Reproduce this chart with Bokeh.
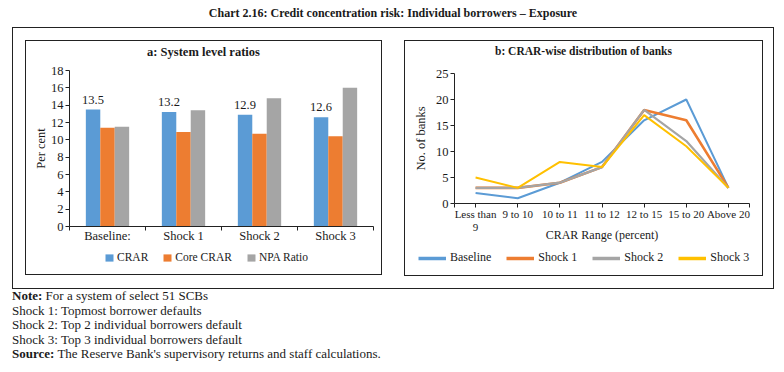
from bokeh.plotting import figure
from bokeh.models import (ColumnDataSource, FixedTicker, Legend, LegendItem, Div,
                          LabelSet, Range1d)
from bokeh.layouts import column, row
from bokeh.embed import file_html
from bokeh.resources import INLINE
from bokeh.transform import dodge

# ---------------- data ----------------
scenarios = ["Baseline:", "Shock 1", "Shock 2", "Shock 3"]
crar = [13.5, 13.2, 12.9, 12.6]
core_crar = [11.4, 10.9, 10.7, 10.4]
npa_ratio = [11.5, 13.4, 14.8, 16.0]

crar_ranges = ["Less than\n9", "9 to 10", "10 to 11", "11 to 12", "12 to 15", "15 to 20", "Above 20"]
baseline = [2, 1, 4, 8, 16, 20, 3]
shock1 = [3, 3, 4, 7, 18, 16, 3]
shock2 = [3, 3, 4, 7, 18, 12, 3]
shock3 = [5, 3, 8, 7, 17, 11, 3]

BLUE, ORANGE, GRAY, YELLOW = "#5B9BD5", "#ED7D31", "#A5A5A5", "#FFC000"
FONT = "Liberation Serif"
TXT = "#1a1a1a"
FS = "12.5px"
BORDER = {"border": "1px solid #222"}


def style_axes(p):
    for ax in (p.xaxis[0], p.yaxis[0]):
        ax.axis_line_color = "#222222"
        ax.major_tick_line_color = "#222222"
        ax.minor_tick_line_color = "#222222"
        ax.major_label_text_font = FONT
        ax.major_label_text_font_size = FS
        ax.major_label_text_color = TXT
        ax.axis_label_text_font = FONT
        ax.axis_label_text_font_size = FS
        ax.axis_label_text_font_style = "normal"
        ax.axis_label_text_color = TXT
        ax.major_tick_in = 0
        ax.major_tick_out = 4
        ax.minor_tick_in = 0
        ax.minor_tick_out = 0
        ax.major_label_standoff = 2
    p.xgrid.grid_line_color = None
    p.ygrid.grid_line_color = None
    p.outline_line_color = None


def legend_fig(width, height):
    f = figure(width=width, height=height, output_backend="svg", toolbar_location=None,
               x_range=Range1d(-10, -9), y_range=Range1d(-10, -9),
               x_axis_location=None, y_axis_location=None, margin=0,
               min_border_left=0, min_border_right=0, min_border_top=0, min_border_bottom=0)
    f.xgrid.grid_line_color = None
    f.ygrid.grid_line_color = None
    f.outline_line_color = None
    return f


def subtitle(text, width, height, size=FS):
    return Div(text=f"<b>{text}</b>", width=width, height=height, margin=0,
               styles={"font-family": FONT, "font-size": size, "color": TXT,
                       "text-align": "center", "line-height": f"{height}px",
                       "width": f"{width}px"})


# ---------------- panel a ----------------
xa = [i + 0.5 for i in range(len(scenarios))]
src_a = ColumnDataSource(dict(x=xa, crar=crar, core=core_crar, npa=npa_ratio,
                              lab=[f"{v:.1f}" for v in crar]))

pa = figure(frame_width=304, frame_height=156, output_backend="svg", toolbar_location=None,
            x_range=Range1d(0, len(scenarios)), y_range=Range1d(0, 18), margin=0,
            min_border_left=43, min_border_right=8, min_border_top=7, min_border_bottom=20)
bars = [("crar", -0.19, BLUE), ("core", 0.0, ORANGE), ("npa", 0.19, GRAY)]
for col, off, colr in bars:
    pa.vbar(x=dodge("x", off, range=pa.x_range), top=col, width=0.19, source=src_a,
            fill_color=colr, line_color=None)
pa.add_layout(LabelSet(x=dodge("x", -0.19, range=pa.x_range), y="crar", text="lab", source=src_a,
                       text_align="center", y_offset=6, text_font=FONT, text_font_size=FS,
                       text_color=TXT))
style_axes(pa)
pa.xaxis.ticker = FixedTicker(ticks=xa, minor_ticks=list(range(len(scenarios) + 1)))
pa.xaxis.major_label_overrides = {x: s for x, s in zip(xa, scenarios)}
pa.xaxis.major_tick_out = 0
pa.xaxis.minor_tick_out = 4
pa.xaxis.major_label_standoff = -2
pa.yaxis.ticker = FixedTicker(ticks=list(range(0, 19, 2)))
pa.yaxis.axis_label = "Per cent"
pa.yaxis.axis_label_standoff = 0

la = legend_fig(355, 28)
items_a = []
for (col, off, colr), name in zip(bars, ["CRAR", "Core CRAR", "NPA Ratio"]):
    r = la.vbar(x=dodge("x", off, range=la.x_range), top=col, width=0.19, source=src_a,
                fill_color=colr, line_color=None)
    items_a.append(LegendItem(label=name, renderers=[r]))
la.add_layout(Legend(items=items_a, orientation="horizontal", location=(78, 10),
                     padding=0, margin=0, spacing=14, glyph_width=10, glyph_height=9,
                     label_standoff=3, label_height=14,
                     label_text_font=FONT, label_text_font_size="11.5px", label_text_color=TXT,
                     border_line_color=None, background_fill_alpha=0), "center")

panel_a = column(subtitle("a: System level ratios", 355, 22), pa, row(la, margin=0),
                 spacing=0, margin=0, styles=BORDER)

# ---------------- panel b ----------------
xb = [i + 0.5 for i in range(len(crar_ranges))]
src_b = ColumnDataSource(dict(x=xb, b0=baseline, b1=shock1, b2=shock2, b3=shock3))
pb = figure(frame_width=295, frame_height=130, output_backend="svg", toolbar_location=None,
            x_range=Range1d(0, len(crar_ranges)), y_range=Range1d(0, 25), margin=0,
            min_border_left=49, min_border_right=13, min_border_top=11, min_border_bottom=41)
series = [("b0", BLUE, 2.0, "Baseline"), ("b1", ORANGE, 2.6, "Shock 1"),
          ("b2", GRAY, 2.2, "Shock 2"), ("b3", YELLOW, 2.0, "Shock 3")]
for col, colr, lw, name in series:
    pb.line("x", col, source=src_b, line_color=colr, line_width=lw)
style_axes(pb)
pb.xaxis.ticker = FixedTicker(ticks=xb, minor_ticks=[0, len(crar_ranges)])
pb.xaxis.major_label_overrides = {x: s for x, s in zip(xb, crar_ranges)}
pb.xaxis.major_label_text_font_size = "11px"
pb.xaxis.minor_tick_out = 4
pb.xaxis.major_label_standoff = 0
pb.xaxis.major_label_text_line_height = 1.15
pb.xaxis.axis_label = "CRAR Range (percent)"
pb.xaxis.axis_label_text_font_size = "12px"
pb.xaxis.axis_label_standoff = -8
pb.yaxis.ticker = FixedTicker(ticks=list(range(0, 26, 5)))
pb.yaxis.axis_label = "No. of banks"
pb.yaxis.axis_label_standoff = 5

lb = legend_fig(357, 30)
items_b = []
for col, colr, lw, name in series:
    r = lb.line("x", col, source=src_b, line_color=colr, line_width=3.5)
    items_b.append(LegendItem(label=name, renderers=[r]))
lb.add_layout(Legend(items=items_b, orientation="horizontal", location=(13, 10),
                     padding=0, margin=0, spacing=15, glyph_width=28, glyph_height=12,
                     label_standoff=4, label_height=14,
                     label_text_font=FONT, label_text_font_size="12px", label_text_color=TXT,
                     border_line_color=None, background_fill_alpha=0), "center")

panel_b = column(subtitle("b: CRAR-wise distribution of banks", 357, 21, "11.5px"), pb,
                 row(lb, margin=0), spacing=0, margin=0, styles=BORDER)

# ---------------- page ----------------
title = Div(text="<b>Chart 2.16: Credit concentration risk: Individual borrowers &ndash; Exposure</b>",
            width=786, height=27, margin=0,
            styles={"font-family": FONT, "font-size": "12px", "color": TXT,
                    "text-align": "center", "width": "786px", "line-height": "27px"})
box = row(panel_a, panel_b, spacing=22,
          styles={"border": "1px solid #222", "padding": "12px 10px 12px 12px"})
box.margin = (0, 0, 0, 12)
notes = Div(text=("<b>Note:</b> For a system of select 51 SCBs<br>"
                  "Shock 1: Topmost borrower defaults<br>"
                  "Shock 2: Top 2 individual borrowers default<br>"
                  "Shock 3: Top 3 individual borrowers default<br>"
                  "<b>Source:</b> The Reserve Bank&#39;s supervisory returns and staff calculations."),
            width=600, height=74,
            styles={"font-family": FONT, "font-size": "13px", "line-height": "14.6px",
                    "color": TXT})
notes.margin = (0, 0, 0, 12)
layout = column(title, box, notes, spacing=0, margin=0)

open("out.html", "w").write(file_html(layout, INLINE))
